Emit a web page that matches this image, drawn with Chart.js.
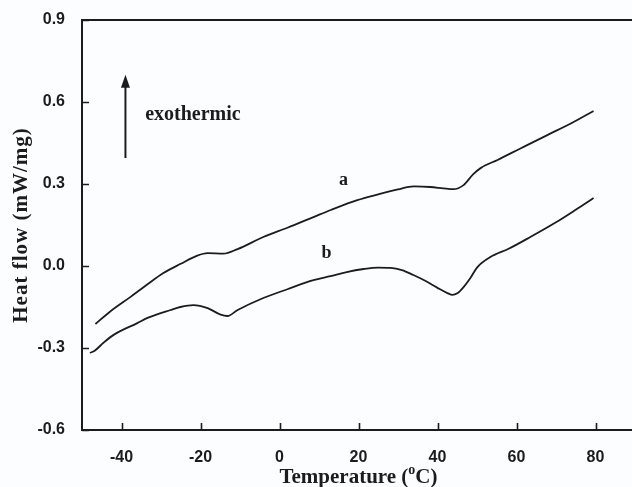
<!DOCTYPE html>
<html>
<head>
<meta charset="utf-8">
<script src="https://cdn.jsdelivr.net/npm/chart.js@4.4.1/dist/chart.umd.min.js"></script>
<style>
  html, body { margin: 0; padding: 0; background: #fcfdfe; }
  #wrap { width: 632px; height: 487px; overflow: hidden; }
</style>
</head>
<body>
<div id="wrap"><canvas id="dsc" width="650" height="487"></canvas></div>
<script>
// DSC heating scans: temperature (°C) vs heat flow (mW/mg)
const tempA = [-46.6, -43.0, -37.7, -33.5, -29.4, -25.0, -20.8, -18.2, -14.2, -10.6, -4.1, 2.0, 8.6, 13.0, 19.7, 25.0, 30.0, 34.0, 38.2, 41.5, 44.0, 46.6, 49.0, 51.0, 55.2, 61.0, 67.8, 74.0, 79.5];
const flowA = [-0.212, -0.168, -0.113, -0.068, -0.026, 0.008, 0.038, 0.047, 0.045, 0.062, 0.106, 0.140, 0.179, 0.205, 0.241, 0.262, 0.280, 0.291, 0.289, 0.284, 0.281, 0.296, 0.335, 0.359, 0.388, 0.430, 0.479, 0.523, 0.567];

const tempB = [-48.0, -46.8, -44.5, -42.0, -36.0, -33.4, -27.6, -25.1, -21.8, -18.2, -14.9, -13.2, -10.6, -4.1, 2.0, 8.6, 12.9, 17.0, 21.3, 25.0, 28.1, 31.0, 33.9, 37.0, 40.0, 42.5, 43.8, 45.0, 46.6, 48.5, 50.1, 53.4, 58.0, 63.5, 70.0, 75.0, 79.5];
const flowB = [-0.318, -0.310, -0.280, -0.252, -0.209, -0.190, -0.161, -0.150, -0.143, -0.154, -0.178, -0.183, -0.161, -0.117, -0.085, -0.052, -0.037, -0.022, -0.011, -0.006, -0.007, -0.015, -0.033, -0.055, -0.080, -0.099, -0.106, -0.100, -0.077, -0.040, -0.004, 0.033, 0.063, 0.106, 0.160, 0.206, 0.249];

const xTicks = [-40, -20, 0, 20, 40, 60, 80];
const yTicks = [-0.6, -0.3, 0.0, 0.3, 0.6, 0.9];
const curveNames = ['a', 'b'];

// where the curve letters and the exotherm arrow sit, in data units
const nameAnchors = [{ x: 16.2, y: 0.315 }, { x: 11.9, y: 0.048 }];
const arrowFrom = { x: -39.0, y: 0.395 };
const arrowTo = { x: -39.0, y: 0.700 };
const exoAnchor = { x: -34.0, y: 0.552 };

const ink = '#1c1c1c';
const serif = "'Liberation Serif', 'Times New Roman', serif";
const sans = "'Liberation Sans', Arial, sans-serif";

function pairs(xs, ys) {
  return xs.map((v, i) => ({ x: v, y: ys[i] }));
}

const decorations = {
  id: 'decorations',
  afterDraw(chart) {
    const { ctx, chartArea: area, scales: { x, y } } = chart;
    ctx.save();

    // frame
    ctx.strokeStyle = ink;
    ctx.lineWidth = 2;
    ctx.strokeRect(area.left, area.top, area.right - area.left, area.bottom - area.top);

    // inward tick marks
    ctx.lineWidth = 1.6;
    ctx.beginPath();
    x.ticks.forEach(t => {
      const px = Math.round(x.getPixelForValue(t.value)) + 0.5;
      ctx.moveTo(px, area.bottom);
      ctx.lineTo(px, area.bottom - 7);
    });
    y.ticks.forEach(t => {
      const py = Math.round(y.getPixelForValue(t.value)) + 0.5;
      ctx.moveTo(area.left, py);
      ctx.lineTo(area.left + 7, py);
    });
    ctx.stroke();

    ctx.fillStyle = ink;

    // axis titles
    ctx.font = 'bold 21px ' + serif;
    ctx.textBaseline = 'alphabetic';
    const head = 'Temperature (';
    const sup = 'o';
    const tail = 'C)';
    const wHead = ctx.measureText(head).width;
    const wTail = ctx.measureText(tail).width;
    ctx.font = 'bold 14px ' + serif;
    const wSup = ctx.measureText(sup).width;
    const cx = (area.left + area.right) / 2;
    let tx = cx - (wHead + wSup + wTail) / 2;
    const base = 483;
    ctx.font = 'bold 21px ' + serif;
    ctx.textAlign = 'left';
    ctx.fillText(head, tx, base);
    tx += wHead;
    ctx.font = 'bold 14px ' + serif;
    ctx.fillText(sup, tx, base - 9);
    tx += wSup;
    ctx.font = 'bold 21px ' + serif;
    ctx.fillText(tail, tx, base);

    ctx.save();
    ctx.translate(27, (area.top + area.bottom) / 2);
    ctx.rotate(-Math.PI / 2);
    ctx.textAlign = 'center';
    ctx.letterSpacing = '1px';
    ctx.fillText('Heat flow (mW/mg)', 0, 0);
    ctx.restore();

    // curve letters
    ctx.font = 'bold 18px ' + serif;
    ctx.textAlign = 'center';
    ctx.textBaseline = 'middle';
    curveNames.forEach((name, i) => {
      ctx.fillText(name, x.getPixelForValue(nameAnchors[i].x), y.getPixelForValue(nameAnchors[i].y));
    });

    // exotherm direction arrow
    const ax = x.getPixelForValue(arrowFrom.x);
    const ay0 = y.getPixelForValue(arrowFrom.y);
    const ay1 = y.getPixelForValue(arrowTo.y);
    ctx.lineWidth = 2;
    ctx.beginPath();
    ctx.moveTo(ax, ay0);
    ctx.lineTo(ax, ay1 + 10);
    ctx.stroke();
    ctx.beginPath();
    ctx.moveTo(ax, ay1);
    ctx.lineTo(ax - 4.5, ay1 + 13);
    ctx.lineTo(ax + 4.5, ay1 + 13);
    ctx.closePath();
    ctx.fill();

    ctx.font = 'bold 20px ' + serif;
    ctx.textAlign = 'left';
    ctx.fillText('exothermic', x.getPixelForValue(exoAnchor.x), y.getPixelForValue(exoAnchor.y));

    ctx.restore();
  }
};

const lineStyle = {
  borderColor: ink,
  borderWidth: 1.8,
  pointRadius: 0,
  fill: false,
  cubicInterpolationMode: 'monotone'
};

new Chart(document.getElementById('dsc'), {
  type: 'line',
  data: {
    datasets: [
      Object.assign({ label: curveNames[0], data: pairs(tempA, flowA) }, lineStyle),
      Object.assign({ label: curveNames[1], data: pairs(tempB, flowB) }, lineStyle)
    ]
  },
  options: {
    responsive: false,
    animation: false,
    layout: { padding: { top: 20, right: 15, left: 0, bottom: 0 } },
    plugins: { legend: { display: false }, tooltip: { enabled: false } },
    scales: {
      x: {
        type: 'linear',
        min: -50,
        max: 90,
        grid: { display: false },
        border: { display: false },
        afterBuildTicks: s => { s.ticks = xTicks.map(v => ({ value: v })); },
        afterFit: s => { s.height = 57; },
        ticks: {
          color: ink,
          padding: 10,
          maxRotation: 0,
          font: { family: sans, size: 16, weight: 'bold' }
        }
      },
      y: {
        min: -0.6,
        max: 0.9,
        grid: { display: false },
        border: { display: false },
        afterBuildTicks: s => { s.ticks = yTicks.map(v => ({ value: v })); },
        afterFit: s => { s.width = 82; },
        ticks: {
          color: ink,
          padding: 9,
          font: { family: sans, size: 16, weight: 'bold' },
          callback: v => Number(v).toFixed(1)
        }
      }
    }
  },
  plugins: [decorations]
});
</script>
</body>
</html>
